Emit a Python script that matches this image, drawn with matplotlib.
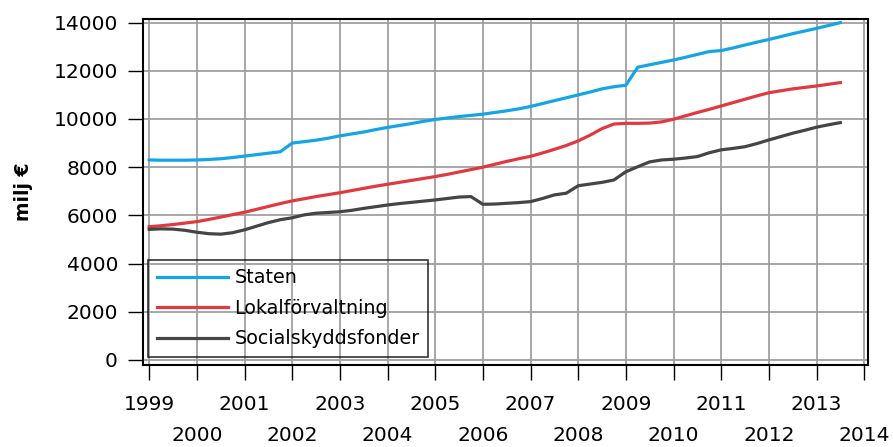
import numpy as np
import matplotlib
matplotlib.use('Agg')
import matplotlib.pyplot as plt

# quarterly values, 1999Q1 .. 2013Q3 (milj euro)
staten = [8300, 8290, 8290, 8290,
          8300, 8320, 8350, 8400,
          8460, 8520, 8580, 8640,
          9000, 9060, 9120, 9200,
          9300, 9380, 9460, 9560,
          9650, 9730, 9810, 9900,
          9980, 10040, 10100, 10150,
          10200, 10270, 10340, 10420,
          10520, 10640, 10760, 10880,
          11000, 11120, 11250, 11340,
          11400, 12150, 12250, 12350,
          12450, 12560, 12680, 12800,
          12840, 12950, 13070, 13190,
          13300, 13420, 13540, 13650,
          13760, 13880, 14000]
lokal = [5530, 5570, 5620, 5680,
         5740, 5830, 5930, 6030,
         6130, 6250, 6370, 6490,
         6600, 6690, 6780, 6860,
         6940, 7030, 7120, 7210,
         7290, 7370, 7450, 7530,
         7610, 7700, 7800, 7900,
         8000, 8120, 8240, 8350,
         8450, 8590, 8740, 8900,
         9090, 9330, 9600, 9790,
         9820, 9820, 9830, 9880,
         9990, 10130, 10270, 10400,
         10540, 10680, 10820, 10960,
         11090, 11170, 11250, 11310,
         11370, 11440, 11510]
social = [5420, 5440, 5430, 5380,
          5300, 5240, 5220, 5280,
          5400, 5550, 5700, 5820,
          5900, 6020, 6090, 6120,
          6150, 6210, 6290, 6360,
          6430, 6490, 6540, 6590,
          6640, 6700, 6760, 6780,
          6460, 6470, 6500, 6530,
          6570, 6700, 6850, 6920,
          7230, 7300, 7370, 7470,
          7810, 8020, 8220, 8300,
          8330, 8380, 8440, 8600,
          8720, 8780, 8850, 8980,
          9130, 9270, 9410, 9530,
          9660, 9760, 9850]
labels = ['Staten', 'Lokalförvaltning', 'Socialskyddsfonder']
colors = ['#14a5e6', '#e03a40', '#454545']

t = 1999 + np.arange(len(staten)) / 4.0

fig = plt.figure(figsize=(8.93, 4.47), dpi=100)
ax = fig.add_axes([143/893, 1-365/447, 725/893, 346/447])

for y, lab, c in zip([staten, lokal, social], labels, colors):
    ax.plot(t, y, color=c, lw=2.3, label=lab, zorder=3)

ax.set_xlim(1998.87, 2014.08)
ax.set_ylim(-210, 14150)
ax.set_yticks(range(0, 14001, 2000))
ax.set_xticks(range(1999, 2015, 2))
ax.set_xticks(range(2000, 2015, 2), minor=True)
ax.set_xticklabels([str(y) for y in range(1999, 2015, 2)])
ax.set_xticklabels([str(y) for y in range(2000, 2015, 2)], minor=True)

ax.grid(True, which='both', color='#a0a0a0', lw=1.3)
ax.set_axisbelow(True)
ax.tick_params(axis='y', length=11, width=1, pad=7, labelsize=14.5)
ax.tick_params(axis='x', which='major', length=11, width=1, pad=10.5, labelsize=14.5)
ax.tick_params(axis='x', which='minor', length=11, width=1, pad=33, labelsize=14.5)
for s in ax.spines.values():
    s.set_linewidth(1.5)

ax.set_ylabel('milj €', fontsize=13.5, fontweight='bold')
ax.yaxis.set_label_coords(-0.152, 0.5)

leg = ax.legend(loc='lower left', bbox_to_anchor=(0.007, 0.023), borderaxespad=0,
                fontsize=13.8, handlelength=3.7, handletextpad=0.35,
                labelspacing=0.6, borderpad=0.45, fancybox=False)
leg.get_frame().set_facecolor('none')
leg.get_frame().set_edgecolor('black')
leg.get_frame().set_linewidth(1.2)

plt.savefig('out.png', dpi=100)
